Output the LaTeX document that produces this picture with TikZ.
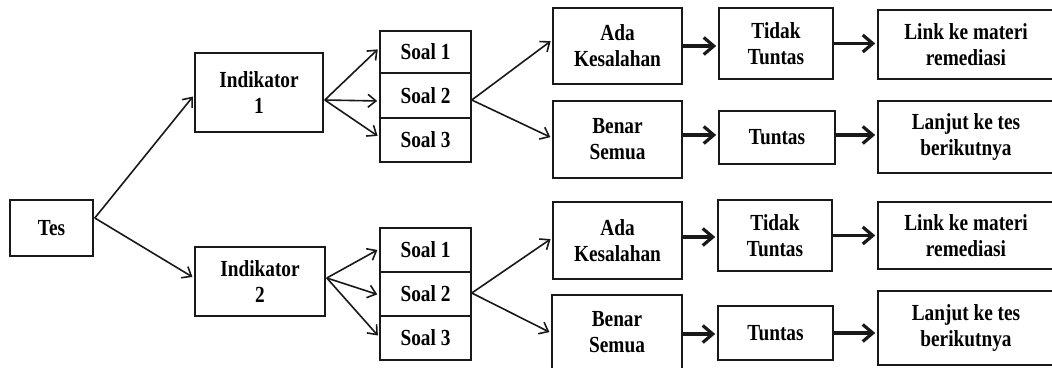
\documentclass[tikz,border=0pt]{standalone}
\usepackage{fontspec}
\setmainfont{Liberation Serif}[FakeStretch=0.84]
\usetikzlibrary{arrows.meta}
\tikzset{
  bx/.style={draw=black!90, line width=1.6pt, rectangle, inner sep=0pt, align=center,
    font=\fontsize{23}{26}\selectfont\bfseries},
  thinarr/.style={draw=black!90, line width=1.6pt, -{Straight Barb[length=8pt,width=13pt]}, shorten >=2pt},
  thickarr/.style={draw=black!90, line width=3.2pt, -{Straight Barb[length=10pt,width=17pt]}, shorten >=2pt}
}
\begin{document}
\begin{tikzpicture}[x=1pt,y=1pt]
\clip (0,0) rectangle (1052,-367);
\fill[white] (0,0) rectangle (1052,-367);
% nodes
\node[bx, minimum width=83pt, minimum height=56pt] (Tes) at (51.5,-228) {Tes};
\node[bx, minimum width=128pt, minimum height=79pt] (Ind1) at (259,-92.5) {Indikator\\1};
\node[bx, minimum width=130pt, minimum height=69pt] (Ind2) at (260,-281.5) {Indikator\\2};
\node[bx, minimum width=91pt, minimum height=42pt] (S1a) at (425.5,-52) {Soal 1};
\node[bx, minimum width=91pt, minimum height=45pt] (S2a) at (425.5,-95.5) {Soal 2};
\node[bx, minimum width=91pt, minimum height=44pt] (S3a) at (425.5,-140) {Soal 3};
\node[bx, minimum width=91pt, minimum height=44pt] (S1b) at (425.5,-250) {Soal 1};
\node[bx, minimum width=91pt, minimum height=44pt] (S2b) at (425.5,-294) {Soal 2};
\node[bx, minimum width=91pt, minimum height=44pt] (S3b) at (425.5,-338) {Soal 3};
\node[bx, minimum width=129pt, minimum height=76pt] (Ada1) at (617.5,-46) {Ada\\Kesalahan};
\node[bx, minimum width=129pt, minimum height=77pt] (Benar1) at (617.5,-139.5) {Benar\\Semua};
\node[bx, minimum width=114pt, minimum height=71pt] (Tidak1) at (776,-43.5) {Tidak\\Tuntas};
\node[bx, minimum width=116pt, minimum height=53pt] (Tuntas1) at (777,-137.5) {Tuntas};
\node[bx, minimum width=176pt, minimum height=69pt] (Link1) at (966,-44.5) {Link ke materi\\remediasi};
\node[bx, minimum width=176pt, minimum height=72pt] (Lanjut1) at (966,-137) {Lanjut ke tes\\berikutnya};
\node[bx, minimum width=129pt, minimum height=77pt] (Ada2) at (617.5,-240.5) {Ada\\Kesalahan};
\node[bx, minimum width=130pt, minimum height=74pt] (Benar2) at (617,-332) {Benar\\Semua};
\node[bx, minimum width=114pt, minimum height=71pt] (Tidak2) at (775,-235.5) {Tidak\\Tuntas};
\node[bx, minimum width=115pt, minimum height=54pt] (Tuntas2) at (775.5,-333) {Tuntas};
\node[bx, minimum width=176pt, minimum height=67pt] (Link2) at (966,-235.5) {Link ke materi\\remediasi};
\node[bx, minimum width=176pt, minimum height=74pt] (Lanjut2) at (966,-328) {Lanjut ke tes\\berikutnya};
% thin arrows
\draw[thinarr] ([xshift=1pt,yshift=10pt]Tes.east) -- ([yshift=-2.5pt]Ind1.west);
\draw[thinarr] ([xshift=1pt,yshift=10pt]Tes.east) -- ([yshift=3.5pt]Ind2.west);
\draw[thinarr] ([xshift=1pt,yshift=-7.5pt]Ind1.east) -- ([yshift=4pt]S1a.west);
\draw[thinarr] ([xshift=1pt,yshift=-7.5pt]Ind1.east) -- ([yshift=-5.5pt]S2a.west);
\draw[thinarr] ([xshift=1pt,yshift=-7.5pt]Ind1.east) -- ([yshift=3pt]S3a.west);
\draw[thinarr] ([xshift=1pt,yshift=3.5pt]Ind2.east) -- ([yshift=1pt]S1b.west);
\draw[thinarr] ([xshift=1pt,yshift=3.5pt]Ind2.east) -- ([yshift=-1pt]S2b.west);
\draw[thinarr] ([xshift=1pt,yshift=3.5pt]Ind2.east) -- ([yshift=1pt]S3b.west);
\draw[thinarr] ([yshift=-4.5pt]S2a.east) -- ([yshift=6pt]Ada1.west);
\draw[thinarr] ([yshift=-4.5pt]S2a.east) -- ([yshift=1.5pt]Benar1.west);
\draw[thinarr] ([yshift=1pt]S2b.east) -- ([yshift=2.5pt]Ada2.west);
\draw[thinarr] ([yshift=1pt]S2b.east) -- ([yshift=-1pt]Benar2.west);
% thick arrows
\coordinate (a1) at (Ada1.east);
\coordinate (t1) at (Tidak1.east);
\coordinate (b1) at ([yshift=4.5pt]Benar1.east);
\coordinate (u1) at ([yshift=2.5pt]Tuntas1.east);
\coordinate (a2) at ([yshift=3.5pt]Ada2.east);
\coordinate (t2) at (Tidak2.east);
\coordinate (b2) at ([yshift=-2pt]Benar2.east);
\coordinate (u2) at (Tuntas2.east);
\draw[thickarr] (a1) -- (a1 -| Tidak1.west);
\draw[thickarr] (t1) -- (t1 -| Link1.west);
\draw[thickarr] (b1) -- (b1 -| Tuntas1.west);
\draw[thickarr] (u1) -- (u1 -| Lanjut1.west);
\draw[thickarr] (a2) -- (a2 -| Tidak2.west);
\draw[thickarr] (t2) -- (t2 -| Link2.west);
\draw[thickarr] (b2) -- (b2 -| Tuntas2.west);
\draw[thickarr] (u2) -- (u2 -| Lanjut2.west);
\end{tikzpicture}
\end{document}
